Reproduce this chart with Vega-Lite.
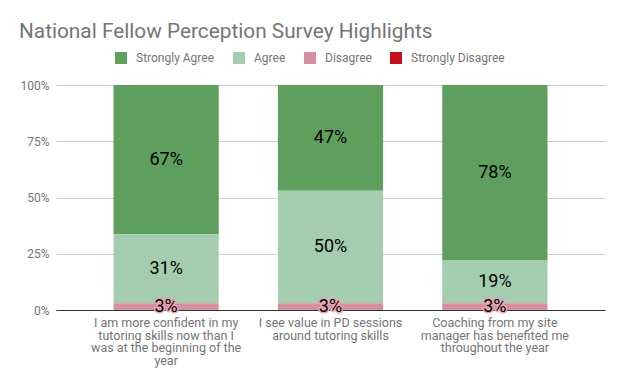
{
  "$schema": "https://vega.github.io/schema/vega-lite/v6.json",
  "width": 549,
  "height": 225,
  "autosize": {"type": "none"},
  "padding": {"left": 56, "top": 85, "right": 19, "bottom": 75},
  "background": "white",
  "title": {
    "text": "National Fellow Perception Survey Highlights",
    "anchor": "start",
    "frame": "group",
    "dx": -37,
    "fontSize": 20.8,
    "fontWeight": "normal",
    "font": "Roboto",
    "color": "#757575",
    "offset": 9
  },
  "data": {
    "values": [
      {"question": "I am more confident in my|tutoring skills now than I|was at the beginning of the|year", "category": "Strongly Agree", "order": 4, "value": 0.67},
      {"question": "I am more confident in my|tutoring skills now than I|was at the beginning of the|year", "category": "Agree", "order": 3, "value": 0.31},
      {"question": "I am more confident in my|tutoring skills now than I|was at the beginning of the|year", "category": "Disagree", "order": 2, "value": 0.03},
      {"question": "I see value in PD sessions|around tutoring skills", "category": "Strongly Agree", "order": 4, "value": 0.47},
      {"question": "I see value in PD sessions|around tutoring skills", "category": "Agree", "order": 3, "value": 0.50},
      {"question": "I see value in PD sessions|around tutoring skills", "category": "Disagree", "order": 2, "value": 0.03},
      {"question": "Coaching from my site|manager has benefited me|throughout the year", "category": "Strongly Agree", "order": 4, "value": 0.78},
      {"question": "Coaching from my site|manager has benefited me|throughout the year", "category": "Agree", "order": 3, "value": 0.19},
      {"question": "Coaching from my site|manager has benefited me|throughout the year", "category": "Disagree", "order": 2, "value": 0.03}
    ]
  },
  "transform": [
    {"stack": "value", "groupby": ["question"], "sort": [{"field": "order", "order": "ascending"}], "offset": "normalize", "as": ["v0", "v1"]}
  ],
  "encoding": {
    "x": {
      "field": "question",
      "type": "nominal",
      "sort": null,
      "scale": {"paddingInner": 0.36, "paddingOuter": 0.35},
      "axis": {
        "title": null,
        "labelAngle": 0,
        "labelExpr": "split(datum.label, '|')",
        "labelFont": "Roboto",
        "labelFontSize": 12.5,
        "labelLineHeight": 12.5,
        "labelColor": "#757575",
        "labelPadding": 6.5,
        "ticks": false,
        "domainColor": "#333333",
        "domainWidth": 1,
        "labelLimit": 300
      }
    }
  },
  "layer": [
    {
      "mark": {"type": "bar"},
      "encoding": {
        "y": {
          "field": "v0",
          "type": "quantitative",
          "scale": {"domain": [0, 1], "nice": false},
          "axis": {
            "title": null,
            "values": [0, 0.25, 0.5, 0.75, 1],
            "format": ".0%",
            "labelFont": "Roboto",
            "labelFontSize": 12,
            "labelColor": "#757575",
            "labelPadding": 7,
            "ticks": false,
            "domain": false,
            "gridColor": "#cccccc"
          }
        },
        "y2": {"field": "v1"},
        "color": {
          "field": "category",
          "type": "nominal",
          "scale": {
            "domain": ["Strongly Agree", "Agree", "Disagree", "Strongly Disagree"],
            "range": ["#5e9f5e", "#a4cdb0", "#d68f9e", "#c0111f"]
          },
          "legend": {
            "title": null,
            "orient": "none",
            "direction": "horizontal",
            "legendX": 59,
            "legendY": -33,
            "symbolType": "square",
            "symbolSize": 144,
            "symbolStrokeWidth": 0,
            "labelFont": "Roboto",
            "labelFontSize": 12,
            "labelColor": "#757575",
            "labelOffset": 9,
            "columnPadding": 18
          }
        }
      }
    },
    {
      "transform": [
        {"fold": ["v0", "v1"], "as": ["edge", "pos"]},
        {"aggregate": [{"op": "mean", "field": "pos", "as": "mid"}], "groupby": ["question", "category", "value"]}
      ],
      "layer": [
        {
          "mark": {"type": "text", "font": "Roboto", "fontSize": 18, "strokeWidth": 3, "fill": "#000000"},
          "encoding": {
            "y": {"field": "mid", "type": "quantitative"},
            "text": {"field": "value", "type": "quantitative", "format": ".0%"},
            "stroke": {
              "field": "category",
              "type": "nominal",
              "scale": {
                "domain": ["Strongly Agree", "Agree", "Disagree", "Strongly Disagree"],
                "range": ["#5e9f5e", "#a4cdb0", "#e7a7b6", "#c0111f"]
              },
              "legend": null
            }
          }
        },
        {
          "mark": {"type": "text", "font": "Roboto", "fontSize": 18, "color": "#000000"},
          "encoding": {
            "y": {"field": "mid", "type": "quantitative"},
            "text": {"field": "value", "type": "quantitative", "format": ".0%"}
          }
        }
      ]
    }
  ],
  "config": {"view": {"stroke": null}}
}
